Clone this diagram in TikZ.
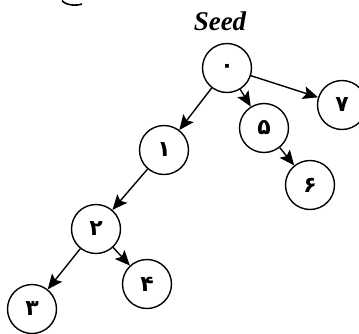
\documentclass[tikz,border=0pt]{standalone}
\usepackage{fontspec}
\setmainfont{Liberation Serif}
\newfontfamily\digitfont[Script=Arabic]{DejaVu Sans}
\usetikzlibrary{arrows.meta}
\tikzset{
  vertex/.style={draw,circle,line width=1.4pt,minimum size=49pt,inner sep=0pt,
    font=\digitfont\bfseries\fontsize{22}{24}\selectfont},
  edge/.style={line width=1.4pt,-{Stealth[length=15pt,width=13pt,inset=3pt]}}
}
\begin{document}
\begin{tikzpicture}[x=1pt,y=-1pt]
      \useasboundingbox (0,0) rectangle (359,333);
      \draw
        (220,21) node[font=\bfseries\itshape\fontsize{27}{30}\selectfont] (seed){Seed}
        (227,68) node[vertex] (0){۰}
        (164,150) node[vertex] (1){۱}
        (96,229) node[vertex] (2){۲}
        (32,309) node[vertex] (3){۳}
        (147,284) node[vertex] (4){۴}
        (264,128) node[vertex] (5){۵}
        (310,185) node[vertex] (6){۶}
        (342,105) node[vertex] (7){۷};
      % cut-off letter at the top edge
      \draw[line width=1.6pt] (62,0.5) .. controls (66,5.5) and (76,6) .. (82,4);
      \begin{scope}[edge]
        \draw (0) to (1);
        \draw (0) to (5);
        \draw (0) to (7);
        \draw (5) to (6);
        \draw (1) to (2);
        \draw (2) to (3);
        \draw (2) to (4);
      \end{scope}
    \end{tikzpicture}
\end{document}
